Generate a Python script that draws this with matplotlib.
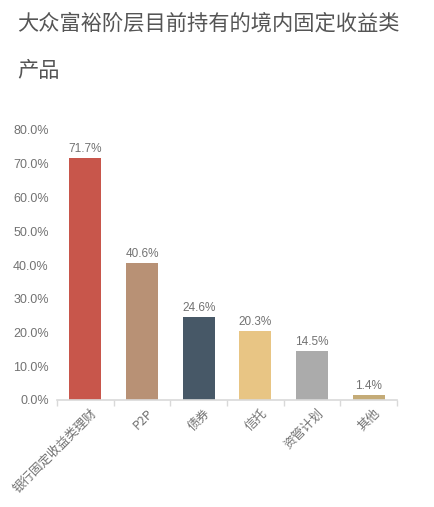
import matplotlib
matplotlib.use("Agg")
import matplotlib.pyplot as plt
import matplotlib.transforms as mtransforms
import numpy as np

plt.rcParams['font.family'] = ['Noto Sans CJK SC', 'DejaVu Sans']

title = "大众富裕阶层目前持有的境内固定收益类\n产品"
categories = ["银行固定收益类理财", "P2P", "债券", "信托", "资管计划", "其他"]
values = [71.7, 40.6, 24.6, 20.3, 14.5, 1.4]
colors = ["#C8564B", "#B89175", "#475867", "#E8C584", "#ABABAB", "#C4AB77"]
yticks = [0, 10, 20, 30, 40, 50, 60, 70, 80]

W, H = 434, 507
fig = plt.figure(figsize=(W / 100, H / 100), dpi=100)
ax = fig.add_axes([57 / W, 1 - 400 / H, 340 / W, 270 / H])

label_color = "#727272"
x = np.arange(len(categories))
ax.bar(x, values, width=0.56, color=colors, zorder=2)
for xi, v in zip(x, values):
    ax.annotate(f"{v:.1f}%", (xi, v), xytext=(0, 2.5), textcoords="offset points",
                ha="center", va="bottom", fontsize=8.5, color=label_color,
                family="Liberation Sans")

ax.set_xlim(-0.5, len(categories) - 0.5)
ax.set_ylim(0, 80)
ax.set_yticks(yticks)
ax.set_yticklabels([f"{t:.1f}%" for t in yticks], fontsize=9, color=label_color,
                   family="Liberation Sans")
ax.tick_params(axis="y", length=0, pad=6)

ax.set_xticks(x)
ax.set_xticklabels(categories, rotation=45, ha="right", va="top",
                   rotation_mode="anchor", fontsize=9, color=label_color)
ax.tick_params(axis="x", which="major", length=0, pad=5)
shift = mtransforms.ScaledTranslation(5 / 100, 0, fig.dpi_scale_trans)
for lbl in ax.get_xticklabels():
    lbl.set_transform(lbl.get_transform() + shift)
ax.set_xticks(np.arange(-0.5, len(categories)), minor=True)
ax.tick_params(axis="x", which="minor", length=4, width=1, color="#D9D9D9")

for s in ["top", "right", "left"]:
    ax.spines[s].set_visible(False)
ax.spines["bottom"].set_color("#D9D9D9")
ax.spines["bottom"].set_linewidth(1.2)

fig.text(17 / W, 1 - 13 / H, title, ha="left", va="top", fontsize=15.3,
         color="#555555", linespacing=2.45)

fig.savefig("out.png", dpi=100)
